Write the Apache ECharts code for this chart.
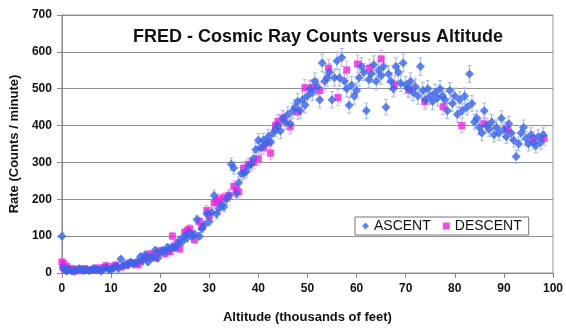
<!DOCTYPE html>
<html>
<head>
<meta charset="utf-8">
<script src="https://cdn.jsdelivr.net/npm/echarts@6/dist/echarts.min.js"></script>
<style>
  html, body { margin: 0; padding: 0; background: #fff; }
  #chart { width: 566px; height: 329px; }
</style>
</head>
<body>
<div id="chart"></div>
<script>
// [altitude (kft), rate (counts/min), error]
var ascent = [
  [0,100,10],[0.3,15,4],[0.6,8,3],[1,5,3],[1.5,10,3],[2,6,3],[2.5,4,2],[3,8,3],[3.5,12,3],[4,9,3],
  [4.5,7,3],[5,10,3],[5.5,6,3],[6,9,3],[6.5,12,4],[7,8,3],[7.5,10,3],[8,5,3],[8.5,12,4],[9,15,4],
  [9.5,10,3],[10,8,3],[10.5,14,4],[11,18,4],[11.5,12,4],[12,38,6],[12.5,20,5],[13,25,5],[13.5,22,5],[14,30,6],
  [14.5,24,5],[15,28,6],[15.5,32,6],[16,45,7],[16.5,35,6],[17,50,7],[17.5,30,6],[18,40,6],[18.5,45,7],[19,62,8],
  [19.5,40,6],[20,55,8],[20.5,62,8],[21,58,8],[21.5,70,8],[22,65,8],[22.5,72,9],[23,68,8],[23.5,75,9],[24,90,10],
  [24.5,85,9],[25,100,10],[25.5,95,10],[26,110,11],[26.5,100,10],[27,105,10],[27.5,145,12],[28,100,10],[28.5,120,11],[29,130,11],
  [29.5,160,13],[30,140,12],[30.5,165,13],[31,210,15],[31.5,160,13],[32,175,13],[32.5,185,14],[33,180,14],[33.5,200,14],[34,210,15],
  [34.5,295,17],[35,285,17],[35.5,215,15],[36,245,16],[36.5,270,17],[37,270,17],[37.5,275,17],[38,290,17],[38.5,295,17],[39,310,18],
  [39.5,335,18],[40,360,19],[40.5,340,18],[41,360,19],[41.5,350,19],[42,370,19],[42.5,355,19],[43,380,20],[43.5,390,20],[44,400,20],
  [44.5,385,20],[45,420,21],[45.5,410,20],[46,430,21],[46.5,405,20],[47,440,21],[47.5,450,21],[48,465,22],[48.5,440,21],[49,470,22],
  [49.5,455,21],[50,480,22],[50.5,500,22],[51,490,22],[51.5,520,23],[52,505,22],[52.5,470,22],[53,570,24],[53.5,520,23],[54,530,23],
  [54.5,545,23],[55,470,22],[55.5,530,23],[56,575,24],[56.5,530,23],[57,585,24],[57.5,520,23],[58,500,22],[58.5,455,21],[59,510,23],
  [59.5,480,22],[60,495,22],[60.5,530,23],[61,560,24],[61.5,545,23],[62,440,21],[62.5,525,23],[63,540,23],[63.5,565,24],[64,520,23],
  [64.5,550,23],[65,535,23],[65.5,560,24],[66,450,21],[66.5,540,23],[67,520,23],[67.5,500,22],[68,560,24],[68.5,545,23],[69,515,23],
  [69.5,570,24],[70,510,23],[70.5,500,22],[71,520,23],[71.5,490,22],[72,505,22],[72.5,480,22],[73,560,24],[73.5,495,22],[74,470,22],
  [74.5,500,22],[75,480,22],[75.5,465,22],[76,490,22],[76.5,475,22],[77,500,22],[77.5,480,22],[78,470,22],[78.5,440,21],[79,495,22],
  [79.5,460,21],[80,480,22],[80.5,430,21],[81,470,22],[81.5,440,21],[82,480,22],[82.5,450,21],[83,540,23],[83.5,460,21],[84,410,20],
  [84.5,420,20],[85,395,20],[85.5,380,20],[86,440,21],[86.5,400,20],[87,390,20],[87.5,410,20],[88,375,19],[88.5,395,20],[89,380,20],
  [89.5,420,20],[90,390,20],[90.5,370,19],[91,405,20],[91.5,380,20],[92,360,19],[92.5,316,18],[93,350,19],[93.5,380,20],[94,395,20],
  [94.5,365,19],[95,350,19],[95.5,375,19],[96,355,19],[96.5,345,19],[97,370,19],[97.5,355,19],[98,375,19]
];

var descent = [
  [0,30,5],[0.2,15,4],[0.4,25,5],[0.6,10,3],[1,18,4],[1.5,8,3],[2,12,3],[2.5,5,2],[3,10,3],[4,6,3],
  [4.5,12,3],[5,9,3],[6,7,3],[6.5,10,3],[7,14,4],[8,10,3],[8.5,15,4],[9,20,4],[10,12,4],[10.5,18,4],
  [11,22,5],[12,16,4],[13,20,5],[14,28,5],[15,25,5],[15.5,22,5],[16,30,6],[17,40,6],[17.5,45,7],[18,52,7],
  [19,40,6],[19.5,55,7],[20,60,8],[21,52,7],[21.5,60,8],[22,58,8],[22.5,100,10],[23,70,8],[23.5,80,9],[24,65,8],
  [25,110,10],[25.5,115,11],[26,120,11],[27,90,10],[28,140,12],[28.5,125,11],[29.5,170,13],[30,155,12],[31,190,14],[31.5,195,14],
  [32,200,14],[33,205,14],[34,210,15],[35,235,15],[35.5,225,15],[36,220,15],[37,285,17],[38,295,17],[39,300,17],[40,310,18],
  [41,340,18],[42,355,19],[42.5,325,18],[43.5,400,20],[44,410,20],[45,420,21],[46.5,397,20],[48,437,21],[49.5,503,22],[51,503,22],
  [52.5,495,22],[54.3,556,24],[56.2,476,22],[58,551,24],[60.2,567,24],[62.6,556,24],[65,581,24],[67.7,511,23],[70.7,497,22],[73.9,465,22],
  [77.6,451,21],[81.4,400,20],[85.9,405,20],[90.7,389,20],[96,365,19],[98.2,365,19]
];

var xTicks = [0, 10, 20, 30, 40, 50, 60, 70, 80, 90, 100];
var yTicks = [0, 100, 200, 300, 400, 500, 600, 700];

var FONT = '"Liberation Sans", Arial, sans-serif';
var ascentColor = '#3a64e8';
var descentColor = '#ee22dd';

function errorBars(color) {
  return function (params, api) {
    var x = api.value(0), y = api.value(1), e = api.value(2);
    var top = api.coord([x, y + e]);
    var bot = api.coord([x, y - e]);
    var w = 2;
    var st = { stroke: color, lineWidth: 1 };
    return {
      type: 'group',
      children: [
        { type: 'line', shape: { x1: top[0], y1: top[1], x2: bot[0], y2: bot[1] }, style: st },
        { type: 'line', shape: { x1: top[0] - w, y1: top[1], x2: top[0] + w, y2: top[1] }, style: st },
        { type: 'line', shape: { x1: bot[0] - w, y1: bot[1], x2: bot[0] + w, y2: bot[1] }, style: st }
      ]
    };
  };
}

var chart = echarts.init(document.getElementById('chart'), null, { renderer: 'canvas' });

chart.setOption({
  animation: false,
  backgroundColor: '#fff',
  textStyle: { fontFamily: FONT },
  title: {
    text: 'FRED - Cosmic Ray Counts versus Altitude',
    left: 313,
    textAlign: 'center',
    top: 23,
    textStyle: { fontFamily: FONT, fontSize: 18, fontWeight: 'bold', color: '#111' }
  },
  legend: {
    left: 355,
    top: 217,
    orient: 'horizontal',
    data: [
      { name: 'ASCENT', icon: 'diamond' },
      { name: 'DESCENT', icon: 'rect' }
    ],
    itemWidth: 7,
    itemHeight: 7,
    itemGap: 12,
    padding: [2, 7, 2, 7],
    borderColor: '#777',
    borderWidth: 1,
    backgroundColor: '#fff',
    borderRadius: 0,
    textStyle: { fontFamily: FONT, fontSize: 14, color: '#111', padding: [0, 0, 0, 0] }
  },
  grid: {
    left: 61, right: 10, top: 15, bottom: 55,
    show: true, borderColor: '#999', borderWidth: 1, backgroundColor: '#fff'
  },
  xAxis: {
    type: 'value',
    min: xTicks[0], max: xTicks[xTicks.length - 1], interval: 10,
    name: 'Altitude (thousands of feet)',
    nameLocation: 'middle',
    nameGap: 38,
    nameTextStyle: { fontFamily: FONT, fontSize: 13, fontWeight: 'bold', color: '#111' },
    axisLine: { show: true, lineStyle: { color: '#888' } },
    axisTick: { show: true, length: 5, lineStyle: { color: '#888' } },
    axisLabel: { fontFamily: FONT, fontSize: 12, fontWeight: 'bold', color: '#111', margin: 10 },
    splitLine: { show: false }
  },
  yAxis: {
    type: 'value',
    min: yTicks[0], max: yTicks[yTicks.length - 1], interval: 100,
    name: 'Rate (Counts / minute)',
    nameLocation: 'middle',
    nameGap: 34,
    nameTextStyle: { fontFamily: FONT, fontSize: 13, fontWeight: 'bold', color: '#111' },
    axisLine: { show: true, lineStyle: { color: '#888' } },
    axisTick: { show: true, length: 5, lineStyle: { color: '#888' } },
    axisLabel: { fontFamily: FONT, fontSize: 12, fontWeight: 'bold', color: '#111', margin: 10 },
    splitLine: { show: true, lineStyle: { color: '#8f8f8f', width: 1 } }
  },
  series: [
    {
      name: 'ascentErr',
      type: 'custom',
      renderItem: errorBars('#9fb8f2'),
      data: ascent,
      encode: { x: 0, y: 1 },
      clip: true,
      z: 2
    },
    {
      name: 'descentErr',
      type: 'custom',
      renderItem: errorBars('#f3a6ec'),
      data: descent,
      encode: { x: 0, y: 1 },
      clip: true,
      z: 2
    },
    {
      name: 'DESCENT',
      type: 'scatter',
      symbol: 'rect',
      symbolSize: 7,
      itemStyle: { color: descentColor },
      data: descent.map(function (d) { return [d[0], d[1]]; }),
      z: 3
    },
    {
      name: 'ASCENT',
      type: 'scatter',
      symbol: 'diamond',
      symbolSize: 9,
      itemStyle: { color: ascentColor },
      data: ascent.map(function (d) { return [d[0], d[1]]; }),
      z: 4
    }
  ]
});
</script>
</body>
</html>
